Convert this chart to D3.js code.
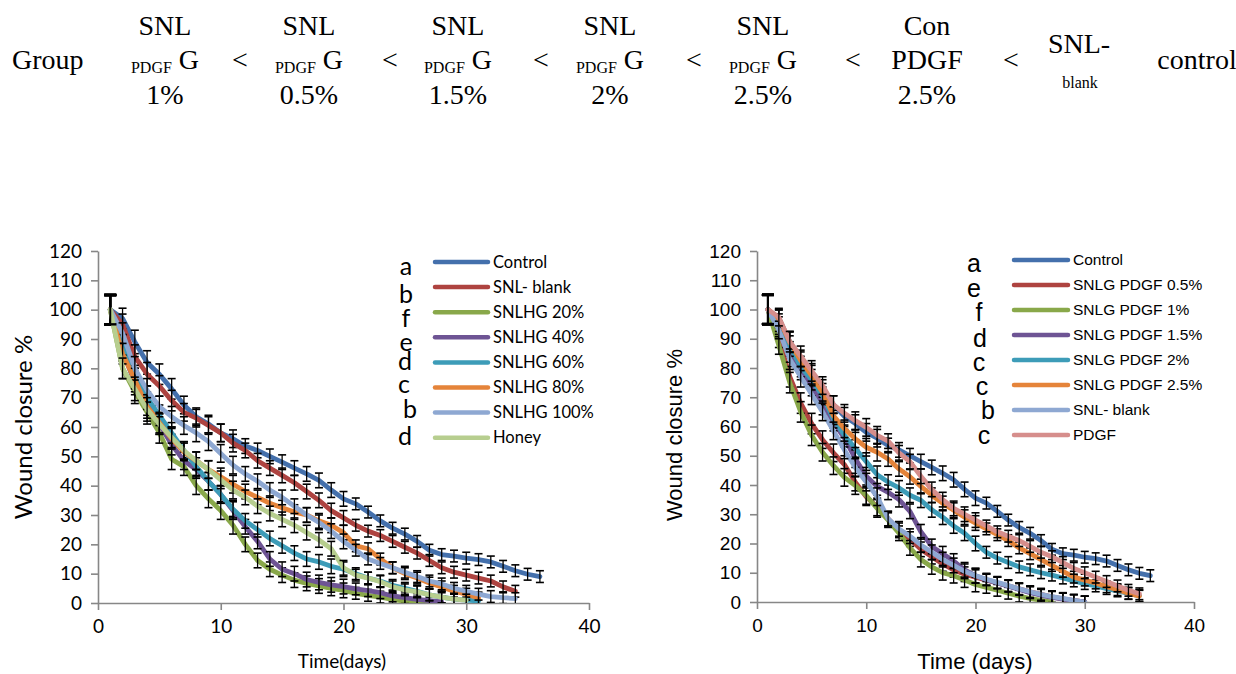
<!DOCTYPE html>
<html><head><meta charset="utf-8">
<script src="https://cdn.jsdelivr.net/npm/d3@7"></script>
<style>body{margin:0;background:#fff}svg{display:block}</style>
</head><body>
<svg id="c" width="1236" height="674"></svg>
<script>
// ---------- header ----------
const headerCols = [
  {top:"SNL", mid:"G", sub:"PDGF", bot:"1%"},
  {top:"SNL", mid:"G", sub:"PDGF", bot:"0.5%"},
  {top:"SNL", mid:"G", sub:"PDGF", bot:"1.5%"},
  {top:"SNL", mid:"G", sub:"PDGF", bot:"2%"},
  {top:"SNL", mid:"G", sub:"PDGF", bot:"2.5%"},
  {top:"Con", mid:"PDGF", sub:"", bot:"2.5%"}
];
// ---------- left chart data (day 1..n) ----------
const leftNames = ["Control","SNL- blank","SNLHG 20%","SNLHG 40%","SNLHG 60%","SNLHG 80%","SNLHG 100%","Honey"];
const leftLetters = ["a","b","f","e","d","c","b","d"];
const control = [100,97,89,82,78,73,67.5,63.5,61,58,56,53.5,52,50,48,46,44,41.8,38.5,35.5,33.8,31,28,25.5,23.5,21,18,16.5,16,15.3,14.8,14,12.5,11,9.8,9];
const snlBlankL = [100,95,84,78,74,69,65,63,60.5,58,54.5,52,48.5,46,43.5,41,38,35,31.5,29,26.5,24.5,23,21,19,17,14.5,12,10.5,9.5,8.5,7.5,5.5,4];
const hg20 = [100,80,72,65,58,49,46.5,40,35.5,31.5,26.5,20,14.5,11.5,9.5,7.8,6.7,5.8,5,4.3,3.3,2.6,2,1.2,0.6,0.3,0];
const hg40 = [100,86,75,68,61,54,48.5,45.5,41.5,37,31.5,26,21,15,11.5,10,8,7,6.2,5.6,4.8,4.2,3.5,2.4,1.8,1.2,0.8,0.4];
const hg60 = [100,88,77,70,64,58,52,46.5,41.5,37,32,28,25,22,19.5,17,15,14,12.5,11.5,10,8.5,7.5,6,5,4,2.8,2,1.3,1,0.7];
const hg80 = [100,85,76,67,61.5,56,51.5,48.5,45.5,43,40.5,38,36,34,32.5,31,30,28,26.5,24,19.5,18.5,15,12,10,8.5,6.8,5.5,4,3,1.7];
const hg100 = [100,92,80,72.5,67,63.5,60.5,58,55,51,47,44,41.5,38.5,36,33,30,27.5,24.5,21,18,15,13.5,12,10.5,9,7.5,6.5,5,4,3,2.2,1.8,1.5];
const honey = [100,80,73,66,61,56.5,52,48.5,45.5,42,38.5,36,33,30.5,28.5,26.5,24,21.5,18.5,12,9.5,8.5,7.3,5.5,4.5,3.8,2.8,2,1.3,1];
const errLeft = [5,3.5,4,4,3.5,3.5,3,3,3,3,3,2.5,2.5,2.5,2.5,2.5,2.5,2.5,2.5,2.5,2,2,2,2,2,2,2,2,2,2,2,2,2,2,2,2];
// ---------- right chart data ----------
const rightNames = ["Control","SNLG PDGF 0.5%","SNLG PDGF 1%","SNLG PDGF 1.5%","SNLG PDGF 2%","SNLG PDGF 2.5%","SNL- blank","PDGF"];
const rightLetters = ["a","e","f","d","c","c","b","c"];
const pg05 = [100,90,77,68,61,55.5,51,47,41,36,32.5,28.5,24.5,21.5,18,15.5,13,11,9.5,8.5,7.5,6.5,5.5,4.5,3.5,2.6,1.8,1.1,0.5,0];
const pg1 = [100,87.7,75,65,57,51.2,46.6,42.6,39.8,36.4,32,28,23.5,18.5,14.5,12,10,9,7.5,6,5,4,3,2,1.2,0.6,0];
const pg15 = [100,94.5,85.5,79.5,74,67,61.5,56,49,43,39.5,37.5,35,31,24,19,16.5,14,11,9,7.6,6.5,5.4,4.3,3.2,2.3,1.6,1,0.5,0];
const pg2 = [100,95.5,87.5,80.5,76,70.5,62.5,57,52.5,48,43.5,41,39,36.5,34.8,31.5,29,26,23.5,20,17,15,13.5,12,11,10,9.2,8.2,7.2,6.3,5.5,4.6,3.8,2.9,2.2];
const pg25 = [100,96.8,88.8,82.6,77.4,71.7,63.7,59.2,55.8,52.9,51.2,48.9,45.5,42.8,39.5,36.5,33.7,31.4,29,27,25,23,21,18.5,16.5,14.5,12.5,10.5,8.5,7.5,6.5,5.2,4.2,3,2];
const snlBlankR = [100,93,83,77,71,65,58.5,52,46,41,36,28.5,25,22.5,19.5,17,14.5,12.5,10.5,9,7.8,6.7,5.6,4.5,3.5,2.6,1.8,1.2,0.6,0];
const pdgf = [100,97.4,89,84,79,74,67.5,64.5,62,59.7,57,55,51,48,43,38.5,35,32,30,28,26,24,22.5,21,19,17,15.5,13.5,11.5,10,8.5,7,5.5,4,2.8];
const errRight = [5,3,3.5,3.5,3.5,3,3,3,3,3,3,2.5,2.5,2.5,2.5,2.5,2.5,2.5,2.5,2.5,2,2,2,2,2,2,2,2,2,2,2,2,2,2,2,2];
const yTicks = [0,10,20,30,40,50,60,70,80,90,100,110,120];
const xTicks = [0,10,20,30,40];

const colors = ["#4470AC","#AE4340","#89A84A","#6E5494","#3D9CB8","#E5843A","#8EA8D2","#B7CE8F","#D68E8C"];

const svg = d3.select("#c");

// ---------- header drawing ----------
const serif = "'Liberation Serif','Times New Roman',serif";
const hdr = svg.append("g").attr("font-family", serif).attr("fill","#000");
const colX = [165, 309, 458, 610, 763, 927];
const ltX = [240, 390, 541, 694, 853, 1011];
hdr.append("text").attr("x",12).attr("y",69).attr("font-size",28).text("Group");
headerCols.forEach((c,i)=>{
  hdr.append("text").attr("x",colX[i]).attr("y",35).attr("text-anchor","middle").attr("font-size",28).text(c.top);
  const t = hdr.append("text").attr("x",colX[i]).attr("y",69).attr("text-anchor","middle").attr("font-size",28);
  if (c.sub) {
    t.append("tspan").attr("font-size",16).attr("dy",4).text(c.sub);
    t.append("tspan").attr("dy",-4).text(" " + c.mid);
  } else t.text(c.mid);
  hdr.append("text").attr("x",colX[i]).attr("y",104).attr("text-anchor","middle").attr("font-size",28).text(c.bot);
  hdr.append("text").attr("x",ltX[i]).attr("y",69).attr("text-anchor","middle").attr("font-size",28).text("<");
});
hdr.append("text").attr("x",1079).attr("y",53).attr("text-anchor","middle").attr("font-size",28).text("SNL-");
hdr.append("text").attr("x",1080).attr("y",88).attr("text-anchor","middle").attr("font-size",16).text("blank");
hdr.append("text").attr("x",1197).attr("y",69).attr("text-anchor","middle").attr("font-size",28).text("control");

// ---------- chart builder ----------
function drawChart(cfg) {
  const g = svg.append("g");
  const x = d3.scaleLinear().domain([0,40]).range(cfg.xr);
  const y = d3.scaleLinear().domain([0,120]).range(cfg.yr);
  const clipId = "clip" + cfg.id;
  svg.append("clipPath").attr("id", clipId).append("rect")
    .attr("x", cfg.xr[0]).attr("y", cfg.yr[1]).attr("width", cfg.xr[1]-cfg.xr[0]).attr("height", cfg.yr[0]-cfg.yr[1]);

  // axes
  const ya = g.append("g").attr("transform",`translate(${cfg.xr[0]},0)`)
    .call(d3.axisLeft(y).tickValues(yTicks).tickSize(7).tickSizeOuter(0).tickPadding(cfg.yPad).tickFormat(d3.format("d")));
  const xa = g.append("g").attr("transform",`translate(0,${cfg.yr[0]})`)
    .call(d3.axisBottom(x).tickValues(xTicks).tickSize(7).tickSizeOuter(0).tickPadding(cfg.xPad).tickFormat(d3.format("d")));
  [ya, xa].forEach(a => {
    a.select(".domain").attr("stroke","#878787").attr("stroke-width",1.6);
    a.selectAll(".tick line").attr("stroke","#878787").attr("stroke-width",1.6);
    a.selectAll(".tick text").attr("fill","#000").attr("font-family",cfg.font).attr("font-size",cfg.tickFs);
  });

  const plot = g.append("g").attr("clip-path",`url(#${clipId})`);
  const line = d3.line().x((d,i)=>x(i+1)).y(d=>y(d));
  cfg.series.forEach((s) => {
    plot.append("path").datum(s.values).attr("d", line)
      .attr("fill","none").attr("stroke", s.color).attr("stroke-width",4.8)
      .attr("stroke-linejoin","round").attr("stroke-linecap","round");
    const eb = plot.append("g").attr("stroke","#000");
    s.values.forEach((v,i)=>{
      const e = cfg.err[i];
      const cx = x(i+1), y1 = y(v+e), y2 = y(v-e);
      const hw = i === 0 ? 6 : 4;
      const sw = i === 0 ? 2.4 : 1.6;
      eb.append("line").attr("x1",cx).attr("x2",cx).attr("y1",y1).attr("y2",y2).attr("stroke-width",sw*0.8);
      eb.append("line").attr("x1",cx-hw).attr("x2",cx+hw).attr("y1",y1).attr("y2",y1).attr("stroke-width",sw);
      eb.append("line").attr("x1",cx-hw).attr("x2",cx+hw).attr("y1",y2).attr("y2",y2).attr("stroke-width",sw);
    });
  });

  // axis titles
  g.append("text").attr("transform",`translate(${cfg.yTitle[0]},${cfg.yTitle[1]}) rotate(-90)`)
    .attr("text-anchor","middle").attr("font-family",cfg.font).attr("font-size",cfg.yTitleFs).text("Wound closure %");
  g.append("text").attr("x",cfg.xTitle[0]).attr("y",cfg.xTitle[1]).attr("text-anchor","middle")
    .attr("font-family",cfg.font).attr("font-size",cfg.xTitleFs).text(cfg.xTitleText);

  // legend
  const lg = g.append("g");
  cfg.series.forEach((s,i)=>{
    const ly = cfg.leg.y0 + i*cfg.leg.dy;
    lg.append("line").attr("x1",cfg.leg.x1).attr("x2",cfg.leg.x2).attr("y1",ly).attr("y2",ly)
      .attr("stroke",s.color).attr("stroke-width",4.5).attr("stroke-linecap","round");
    lg.append("text").attr("x",cfg.leg.x2+5).attr("y",ly).attr("dy","0.35em")
      .attr("font-family",cfg.font).attr("font-size",cfg.leg.fs).text(s.name);
    lg.append("text").attr("x",cfg.letX[i]).attr("y",cfg.letY[i]).attr("dy","0.35em").attr("text-anchor","middle")
      .attr("font-family",cfg.font).attr("font-size",25).text(s.letter);
  });
}

const leftVals = [control, snlBlankL, hg20, hg40, hg60, hg80, hg100, honey];
const leftColors = [colors[0],colors[1],colors[2],colors[3],colors[4],colors[5],colors[6],colors[7]];
drawChart({
  id:"L", xr:[98,589], yr:[603,251], font:"Lato, Carlito, 'Liberation Sans', sans-serif",
  tickFs:19, yPad:9, xPad:10, err: errLeft,
  series: leftVals.map((v,i)=>({values:v, name:leftNames[i], color:leftColors[i], letter:leftLetters[i]})),
  yTitle:[32,427], yTitleFs:24, xTitle:[342,668], xTitleFs:19, xTitleText:"Time(days)",
  leg:{x1:435, x2:488, y0:262, dy:25.1, fs:16.5},
  letX:[406,406,406,406,405,404,410,405], letY:[266,294,318,342,361,384,409,436]
});

const rightVals = [control, pg05, pg1, pg15, pg2, pg25, snlBlankR, pdgf];
const rightColors = [colors[0],colors[1],colors[2],colors[3],colors[4],colors[5],colors[6],colors[8]];
drawChart({
  id:"R", xr:[757,1194], yr:[602,251], font:"'Liberation Sans', Arial, sans-serif",
  tickFs:19, yPad:9, xPad:10, err: errRight,
  series: rightVals.map((v,i)=>({values:v, name:rightNames[i], color:rightColors[i], letter:rightLetters[i]})),
  yTitle:[682,435], yTitleFs:22, xTitle:[975,669], xTitleFs:22, xTitleText:"Time (days)",
  leg:{x1:1014, x2:1068, y0:260, dy:25, fs:15.5},
  letX:[974,974,979,980,979,982,988,984], letY:[263,288,312,338,362,386,410,435]
});
</script>
</body></html>
